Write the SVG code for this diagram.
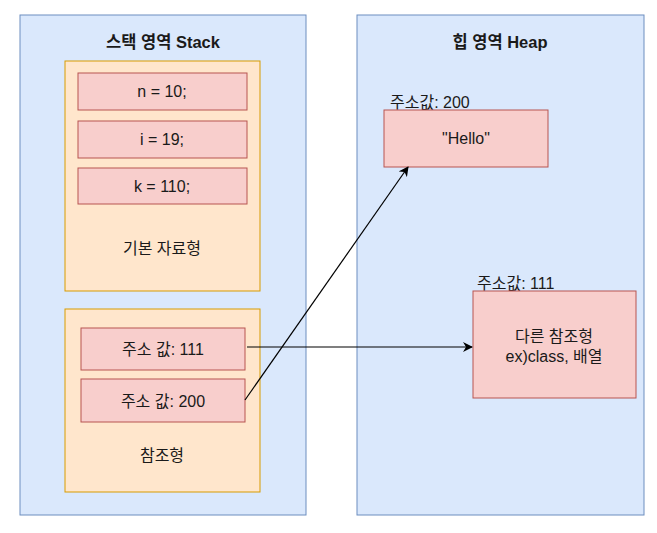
<svg xmlns="http://www.w3.org/2000/svg" width="657" height="533" viewBox="0 0 657 533">
<defs>
<style>
.area{fill:#dae8fc;stroke:#6c8ebf;stroke-width:1}
.grp{fill:#ffe6cc;stroke:#d79b00;stroke-width:1}
.cell{fill:#f8cecc;stroke:#b85450;stroke-width:1}
text{font-family:"Liberation Sans","Noto Sans CJK KR",sans-serif;font-size:16px;fill:#1a1a1a;text-anchor:middle}
.title{font-weight:bold;font-size:16.5px}
.lbl{text-anchor:start}
.conn{stroke:#000;stroke-width:1.2;fill:none;marker-end:url(#arr)}
</style>
<marker id="arr" viewBox="0 0 10 10" refX="9" refY="5" markerWidth="10" markerHeight="10" markerUnits="userSpaceOnUse" orient="auto">
<path d="M0,0 L10,5 L0,10 L3,5 Z" fill="#000"/>
</marker>
</defs>
<rect width="657" height="533" fill="#fff"/>
<g id="stack">
<rect class="area" x="20" y="15" width="286" height="500"/>
<text class="title" x="163" y="48">스택 영역 Stack</text>
</g>
<g id="heap">
<rect class="area" x="357" y="15" width="287" height="500"/>
<text class="title" x="500" y="48">힙 영역 Heap</text>
</g>
<g id="primitive">
<rect class="grp" x="65" y="61" width="195" height="230"/>
<text x="162" y="254">기본 자료형</text>
</g>
<g id="n">
<rect class="cell" x="78" y="73" width="169" height="37"/>
<text x="162" y="97">n = 10;</text>
</g>
<g id="i">
<rect class="cell" x="78" y="121" width="169" height="37"/>
<text x="162" y="145">i = 19;</text>
</g>
<g id="k">
<rect class="cell" x="78" y="168" width="169" height="36"/>
<text x="162" y="192">k = 110;</text>
</g>
<g id="reference">
<rect class="grp" x="65" y="309" width="195" height="183"/>
<text x="162" y="461">참조형</text>
</g>
<g id="addr111">
<rect class="cell" x="81" y="328" width="164" height="42"/>
<text x="163" y="355">주소 값: 111</text>
</g>
<g id="addr200">
<rect class="cell" x="81" y="379" width="164" height="43"/>
<text x="163" y="407">주소 값: 200</text>
</g>
<g id="hello">
<text class="lbl" x="390" y="108">주소값: 200</text>
<rect class="cell" x="384" y="110" width="164" height="57"/>
<text x="466" y="144">"Hello"</text>
</g>
<g id="other">
<text class="lbl" x="477" y="289">주소값: 111</text>
<rect class="cell" x="473" y="291" width="163" height="107"/>
<text x="554" y="342">다른 참조형</text>
<text x="554" y="362">ex)class, 배열</text>
</g>
<g id="connectors">
<line class="conn" x1="247" y1="347" x2="472" y2="347"/>
<line class="conn" x1="245" y1="400" x2="408" y2="167"/>
</g>
</svg>
